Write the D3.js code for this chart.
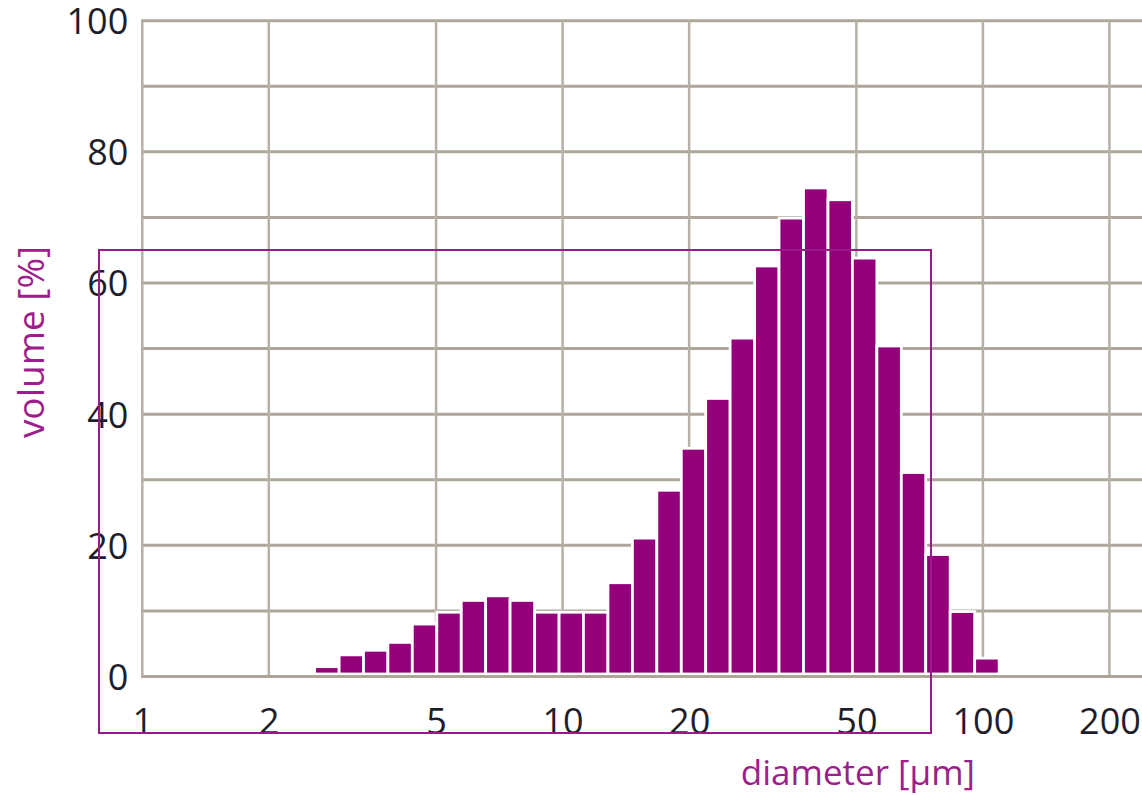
<!DOCTYPE html>
<html>
<head>
<meta charset="utf-8">
<script src="https://cdn.jsdelivr.net/npm/d3@7"></script>
<style>
  html, body { margin: 0; padding: 0; background: #fff; }
  svg { display: block; }
  text { font-family: "Open Sans", "Noto Sans", sans-serif; }
</style>
</head>
<body>
<svg id="chart" width="1142" height="795"></svg>
<script>
// Particle size classes: lower/upper bin edges in µm (29 edges, 28 classes)
const binEdges = [2.57, 2.94, 3.36, 3.84, 4.39, 5.02, 5.74, 6.56, 7.50, 8.58,
  9.81, 11.21, 12.82, 14.66, 16.76, 19.16, 21.90, 25.04, 28.63, 32.73,
  37.43, 42.80, 48.92, 55.94, 63.96, 73.11, 83.59, 95.59, 109.3];
// Volume share per size class, %
const volume = [1.5, 3.3, 4.0, 5.2, 8.0, 9.8, 11.6, 12.3, 11.6, 9.8,
  9.8, 9.8, 14.3, 21.1, 28.4, 34.8, 42.4, 51.6, 62.6, 69.9,
  74.5, 72.7, 63.8, 50.4, 31.1, 18.6, 9.9, 2.8];
// Axis ticks
const xTicks = [1, 2, 5, 10, 20, 50, 100, 200];
const yTicks = [0, 20, 40, 60, 80, 100];
const yGrid = [0, 10, 20, 30, 40, 50, 60, 70, 80, 90, 100];
const xTitle = "diameter [µm]";
const yTitle = "volume [%]";

const bins = volume.map((v, i) => ({ x0: binEdges[i], x1: binEdges[i + 1], v }));

const svg = d3.select("#chart");
const W = 1142;

const x = d3.scaleLog().domain([1, 100]).range([142.3, 982.9]);
const y = d3.scaleLinear().domain([0, 100]).range([676.5, 20.7]);

const gridColor = "#aea799";
const purple = "#93007a";
const titleColor = "#9c1f8d";

// grid
const grid = svg.append("g");
grid.selectAll("line.h").data(yGrid).join("line")
  .attr("class", "h")
  .attr("x1", x(1) - 1.2).attr("x2", W)
  .attr("y1", d => y(d)).attr("y2", d => y(d))
  .attr("stroke", gridColor).attr("stroke-width", 3);
grid.selectAll("line.v").data(xTicks).join("line")
  .attr("class", "v")
  .attr("x1", d => x(d)).attr("x2", d => x(d))
  .attr("y1", y(100)).attr("y2", y(0))
  .attr("stroke", "#b6b0a6").attr("stroke-width", 2.5);

// histogram bars, white outline separates them from the grid
svg.append("g").selectAll("rect").data(bins).join("rect")
  .attr("x", d => x(d.x0))
  .attr("width", d => x(d.x1) - x(d.x0))
  .attr("y", d => y(d.v))
  .attr("height", d => y(0) - y(d.v) - 2.5)
  .attr("fill", purple)
  .attr("stroke", "#fff")
  .attr("stroke-width", 2.8);

// axis base line redrawn over the bar outlines
svg.append("line")
  .attr("x1", x(1) - 1.2).attr("x2", W)
  .attr("y1", y(0)).attr("y2", y(0))
  .attr("stroke", gridColor).attr("stroke-width", 3);

// y tick labels
const yAxis = d3.axisLeft(y).tickValues(yTicks).tickSize(0).tickPadding(14);
const gy = svg.append("g").attr("transform", `translate(${x(1)},0)`).call(yAxis);
gy.select(".domain").remove();
gy.selectAll("text")
  .attr("font-family", "'Open Sans', sans-serif")
  .attr("font-size", 36).attr("fill", "#1e1e2a")
  .attr("dy", "0.36em");

// x tick labels
const xAxis = d3.axisBottom(x).tickValues(xTicks).tickFormat(d3.format("d")).tickSize(0).tickPadding(0);
const gx = svg.append("g").attr("transform", `translate(0,${y(0)})`).call(xAxis);
gx.select(".domain").remove();
gx.selectAll("text")
  .attr("font-family", "'Open Sans', sans-serif")
  .attr("font-size", 36).attr("fill", "#1e1e2a")
  .attr("y", 57).attr("dy", 0);

// axis titles
svg.append("text")
  .attr("x", 975).attr("y", 785)
  .attr("text-anchor", "end")
  .attr("font-size", 35).attr("fill", titleColor)
  .text(xTitle);
svg.append("text")
  .attr("transform", "translate(44,342) rotate(-90)")
  .attr("text-anchor", "middle")
  .attr("font-size", 37).attr("fill", titleColor)
  .text(yTitle);

// highlight frame
svg.append("rect")
  .attr("x", 99).attr("y", 250)
  .attr("width", 832).attr("height", 483)
  .attr("fill", "none")
  .attr("stroke", "#9a1a8c").attr("stroke-width", 2);
</script>
</body>
</html>
